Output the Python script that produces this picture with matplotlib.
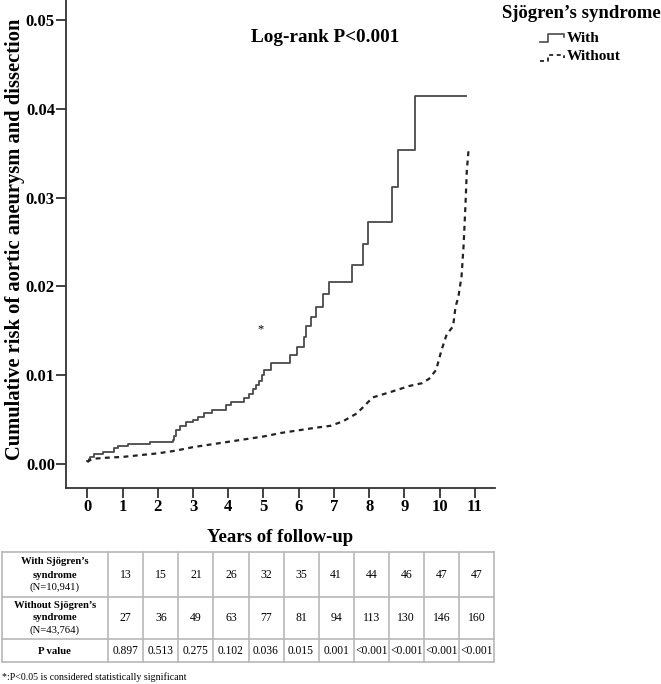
import numpy as np
import matplotlib
matplotlib.use('Agg')
import matplotlib.pyplot as plt

plt.rcParams['font.family'] = ['Liberation Serif', 'DejaVu Serif']

# ---- data ----
years = list(range(12))
y_ticks = [0.00, 0.01, 0.02, 0.03, 0.04, 0.05]

with_t = [0, 0.04, 0.08, 0.2, 0.45, 0.75, 0.88, 1.15, 1.78, 2.42,
          2.46, 2.53, 2.63, 2.8, 3.0, 3.15, 3.3, 3.55, 3.95, 4.08,
          4.45, 4.6, 4.7, 4.8, 4.87, 4.95, 5.02, 5.2, 5.75, 5.95,
          6.15, 6.2, 6.35, 6.5, 6.7, 6.87, 7.5, 7.83, 7.97, 8.66,
          8.82, 9.3, 10.74]
with_v = [0.0003, 0.0006, 0.0008, 0.0011, 0.0014, 0.0018, 0.0020, 0.0023, 0.0025, 0.0027,
          0.0032, 0.0038, 0.0043, 0.0047, 0.0050, 0.0053, 0.0057, 0.0061, 0.0066, 0.0070,
          0.0074, 0.0079, 0.0084, 0.0089, 0.0094, 0.0100, 0.0106, 0.0114, 0.0123, 0.0132,
          0.0143, 0.0155, 0.0166, 0.0177, 0.0192, 0.0205, 0.0224, 0.0248, 0.0273, 0.0312,
          0.0354, 0.0414, 0.0414]

without_t = [0, 0.05, 0.2, 0.5, 1.0, 1.5, 2.0, 2.5, 3.0, 3.5,
             4.0, 4.5, 5.0, 5.5, 6.0, 6.5, 6.9, 7.25, 7.65, 7.85,
             8.1, 8.6, 9.15, 9.5, 9.7, 9.9, 10.05, 10.2, 10.38, 10.45,
             10.53, 10.62, 10.68, 10.73, 10.77, 10.82]
without_v = [0.0002, 0.0004, 0.0006, 0.0007, 0.0008, 0.0010, 0.0012, 0.0015, 0.0019, 0.0022,
             0.0025, 0.0028, 0.0031, 0.0035, 0.0038, 0.0041, 0.0043, 0.0048, 0.0057, 0.0065,
             0.0075, 0.0081, 0.0088, 0.0091, 0.0096, 0.0106, 0.0128, 0.0146, 0.0155, 0.0177,
             0.0188, 0.0211, 0.0247, 0.0290, 0.0330, 0.0354]

with_counts = ['13', '15', '21', '26', '32', '35', '41', '44', '46', '47', '47']
without_counts = ['27', '36', '49', '63', '77', '81', '94', '113', '130', '146', '160']
p_values = ['0.897', '0.513', '0.275', '0.102', '0.036', '0.015', '0.001',
            '<0.001', '<0.001', '<0.001', '<0.001']

# ---- figure ----
W, H = 661, 684
fig = plt.figure(figsize=(W / 100, H / 100), dpi=100)

ax = fig.add_axes([66 / W, 1 - 488 / H, (495 - 66) / W, 488 / H])
ax.step(with_t, with_v, where='post', color='#4a4a4a', lw=1.3)
ax.plot(without_t, without_v, color='#222222', lw=1.6, ls=(0, (2.2, 2.0)))

ax.set_xlim(-0.604, 11.57)
ax.set_ylim(-0.0027, 0.05225)
ax.set_xticks(years)
ax.set_yticks(y_ticks)
ax.set_yticklabels([f'{v:.2f}' for v in y_ticks])
ax.tick_params(direction='out', length=7, width=1.3, color='#333333',
               labelsize=12, pad=1)
for lab in ax.get_xticklabels() + ax.get_yticklabels():
    lab.set_fontweight('bold')
for s in ['top', 'right']:
    ax.spines[s].set_visible(False)
for s in ['left', 'bottom']:
    ax.spines[s].set_linewidth(1.3)
    ax.spines[s].set_color('#333333')

ax.set_ylabel('Cumulative risk of aortic aneurysm and dissection',
              fontsize=14.8, fontweight='bold')
ax.yaxis.set_label_coords(-0.095, 0.51)

ax.text(6.74, 0.048, 'Log-rank P<0.001', ha='center', va='center',
        fontsize=13.8, fontweight='bold')
ax.text(4.93, 0.0152, '*', ha='center', va='center', fontsize=9)

fig.text(280 / W, 1 - 537 / H, 'Years of follow-up', ha='center', va='center',
         fontsize=13.5, fontweight='bold')

# overlay in pixel units for legend + table
ov = fig.add_axes([0, 0, 1, 1])
ov.set_xlim(0, W)
ov.set_ylim(H, 0)
ov.axis('off')

# legend
ov.text(502, 13, 'Sjögren’s syndrome', ha='left', va='center',
        fontsize=13.5, fontweight='bold')
ov.plot([540, 548, 548, 564, 564], [42, 42, 34, 34, 37], color='#4a4a4a', lw=1.2)
ov.plot([540, 548, 548, 564, 564], [61, 61, 55, 55, 58], color='#222222', lw=1.3,
        ls=(0, (2.2, 2.0)))
ov.text(567, 39, 'With', ha='left', va='center', fontsize=11, fontweight='bold')
ov.text(567, 57, 'Without', ha='left', va='center', fontsize=11, fontweight='bold')

# table
row_edges = [552, 597, 639, 662]
x_left, x_label, x_right = 1.5, 108.3, 493.9
col_w = (x_right - x_label) / len(with_counts)
col_edges = [x_label + i * col_w for i in range(len(with_counts) + 1)]
grid_c = '#b8b8b8'
for y in row_edges:
    ov.plot([x_left, x_right], [y, y], color=grid_c, lw=1.2)
for x in [x_left] + col_edges:
    ov.plot([x, x], [row_edges[0], row_edges[-1]], color=grid_c, lw=1.2)

lab_x = (x_left + x_label) / 2
ov.text(lab_x, 562, 'With Sjögren’s', ha='center', va='center', fontsize=7.7, fontweight='bold')
ov.text(lab_x, 575, 'syndrome', ha='center', va='center', fontsize=7.7, fontweight='bold')
ov.text(lab_x, 587, '(N=10,941)', ha='center', va='center', fontsize=7.7)
ov.text(lab_x, 606, 'Without Sjögren’s', ha='center', va='center', fontsize=7.7, fontweight='bold')
ov.text(lab_x, 618, 'syndrome', ha='center', va='center', fontsize=7.7, fontweight='bold')
ov.text(lab_x, 630, '(N=43,764)', ha='center', va='center', fontsize=7.7)
ov.text(lab_x, 651, 'P value', ha='center', va='center', fontsize=7.7, fontweight='bold')

for i in range(len(with_counts)):
    cx = col_edges[i] + col_w / 2
    ov.text(cx, 575, with_counts[i], ha='center', va='center', fontsize=8.5)
    ov.text(cx, 618, without_counts[i], ha='center', va='center', fontsize=8.5)
    ov.text(cx, 651, p_values[i], ha='center', va='center', fontsize=8.3)

ov.text(2, 677, '*:P<0.05 is considered statistically significant', ha='left',
        va='center', fontsize=7.1)

fig.savefig('out.png', dpi=100)
